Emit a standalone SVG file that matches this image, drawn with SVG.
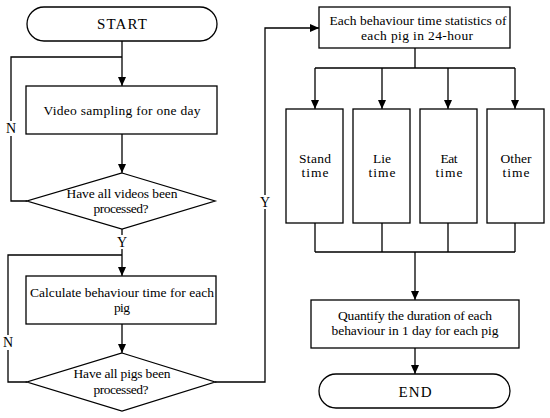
<svg xmlns="http://www.w3.org/2000/svg" width="550" height="418" viewBox="0 0 550 418">
<defs>
<marker id="arr" markerWidth="8" markerHeight="9" refX="9" refY="4" orient="auto" markerUnits="userSpaceOnUse">
<path d="M0,0 L9,4 L0,8 Z" fill="#000"/>
</marker>
<style>
.n{fill:#fff;stroke:#000;stroke-width:1.3}
.c{fill:none;stroke:#000;stroke-width:1.3}
text{font-family:'Liberation Serif','Times New Roman',serif;fill:#000;text-anchor:middle}
.t{font-size:13.5px}
.big{font-size:15px}
.lb{font-size:14px}
</style>
</defs>
<rect width="550" height="418" fill="#fff"/>
<g id="connectors">
<path class="c" d="M122,41 V86" marker-end="url(#arr)"/>
<path class="c" d="M27,201 H11 V57 H122"/>
<path class="c" d="M122,134 V173" marker-end="url(#arr)"/>
<path class="c" d="M122,229 V276" marker-end="url(#arr)"/>
<path class="c" d="M27,382 H8 V255 H122"/>
<path class="c" d="M122,324 V353" marker-end="url(#arr)"/>
<path class="c" d="M215,382 H265 V28 H319" marker-end="url(#arr)"/>
<path class="c" d="M415,48 V68 M315,68 H515"/>
<path class="c" d="M315,68 V109" marker-end="url(#arr)"/>
<path class="c" d="M382,68 V109" marker-end="url(#arr)"/>
<path class="c" d="M448,68 V109" marker-end="url(#arr)"/>
<path class="c" d="M515,68 V109" marker-end="url(#arr)"/>
<path class="c" d="M315,223 V252 M382,223 V252 M448,223 V252 M515,223 V252 M315,252 H515"/>
<path class="c" d="M415,252 V300" marker-end="url(#arr)"/>
<path class="c" d="M415,348 V374" marker-end="url(#arr)"/>
<rect x="4" y="121" width="14" height="15" fill="#fff"/>
<text class="lb" x="11" y="133">N</text>
<rect x="1" y="335" width="14" height="15" fill="#fff"/>
<text class="lb" x="8" y="347">N</text>
<rect x="115" y="235" width="14" height="14" fill="#fff"/>
<text class="lb" x="122" y="247">Y</text>
<rect x="258" y="195" width="14" height="14" fill="#fff"/>
<text class="lb" x="265" y="207">Y</text>
</g>
<g id="start">
<rect class="n" x="27" y="7" width="190" height="34" rx="17"/>
<text class="big" x="122" y="29" textLength="50" lengthAdjust="spacing">START</text>
</g>
<g id="video">
<rect class="n" x="26" y="86" width="191" height="48"/>
<text class="t" x="122" y="115" textLength="157" lengthAdjust="spacing">Video sampling for one day</text>
</g>
<g id="dec1">
<polygon class="n" points="122,173 215,201 122,229 27,201"/>
<text class="t" x="122" y="198" textLength="111" lengthAdjust="spacing">Have all videos been</text>
<text class="t" x="121" y="213" textLength="55" lengthAdjust="spacing">processed?</text>
</g>
<g id="calc">
<rect class="n" x="26" y="276" width="190" height="48"/>
<text class="t" x="122" y="297" textLength="184" lengthAdjust="spacing">Calculate behaviour time for each</text>
<text class="t" x="122" y="312" textLength="16" lengthAdjust="spacing">pig</text>
</g>
<g id="dec2">
<polygon class="n" points="122,353 215,382 122,411 27,382"/>
<text class="t" x="122" y="378" textLength="97" lengthAdjust="spacing">Have all pigs been</text>
<text class="t" x="121" y="394" textLength="55" lengthAdjust="spacing">processed?</text>
</g>
<g id="stats">
<rect class="n" x="319" y="7" width="191" height="41"/>
<text class="t" x="418" y="25" textLength="177" lengthAdjust="spacing">Each behaviour time statistics of</text>
<text class="t" x="417" y="40" textLength="112" lengthAdjust="spacing">each pig in 24-hour</text>
</g>
<g id="stand">
<rect class="n" x="286" y="109" width="57" height="114"/>
<text class="t" x="315" y="163" textLength="32" lengthAdjust="spacing">Stand</text>
<text class="t" x="315" y="177" textLength="27" lengthAdjust="spacing">time</text>
</g>
<g id="lie">
<rect class="n" x="353" y="109" width="57" height="114"/>
<text class="t" x="382" y="163" textLength="18" lengthAdjust="spacing">Lie</text>
<text class="t" x="382" y="177" textLength="27" lengthAdjust="spacing">time</text>
</g>
<g id="eat">
<rect class="n" x="420" y="109" width="57" height="114"/>
<text class="t" x="449" y="163" textLength="17" lengthAdjust="spacing">Eat</text>
<text class="t" x="449" y="177" textLength="27" lengthAdjust="spacing">time</text>
</g>
<g id="other">
<rect class="n" x="487" y="109" width="57" height="114"/>
<text class="t" x="516" y="163" textLength="31" lengthAdjust="spacing">Other</text>
<text class="t" x="516" y="177" textLength="27" lengthAdjust="spacing">time</text>
</g>
<g id="quantify">
<rect class="n" x="311" y="300" width="208" height="48"/>
<text class="t" x="415" y="320" textLength="154" lengthAdjust="spacing">Quantify the duration of each</text>
<text class="t" x="415" y="335" textLength="167" lengthAdjust="spacing">behaviour in 1 day for each pig</text>
</g>
<g id="end">
<rect class="n" x="319" y="374" width="191" height="34" rx="17"/>
<text class="big" x="415" y="397" textLength="33" lengthAdjust="spacing">END</text>
</g>
</svg>
